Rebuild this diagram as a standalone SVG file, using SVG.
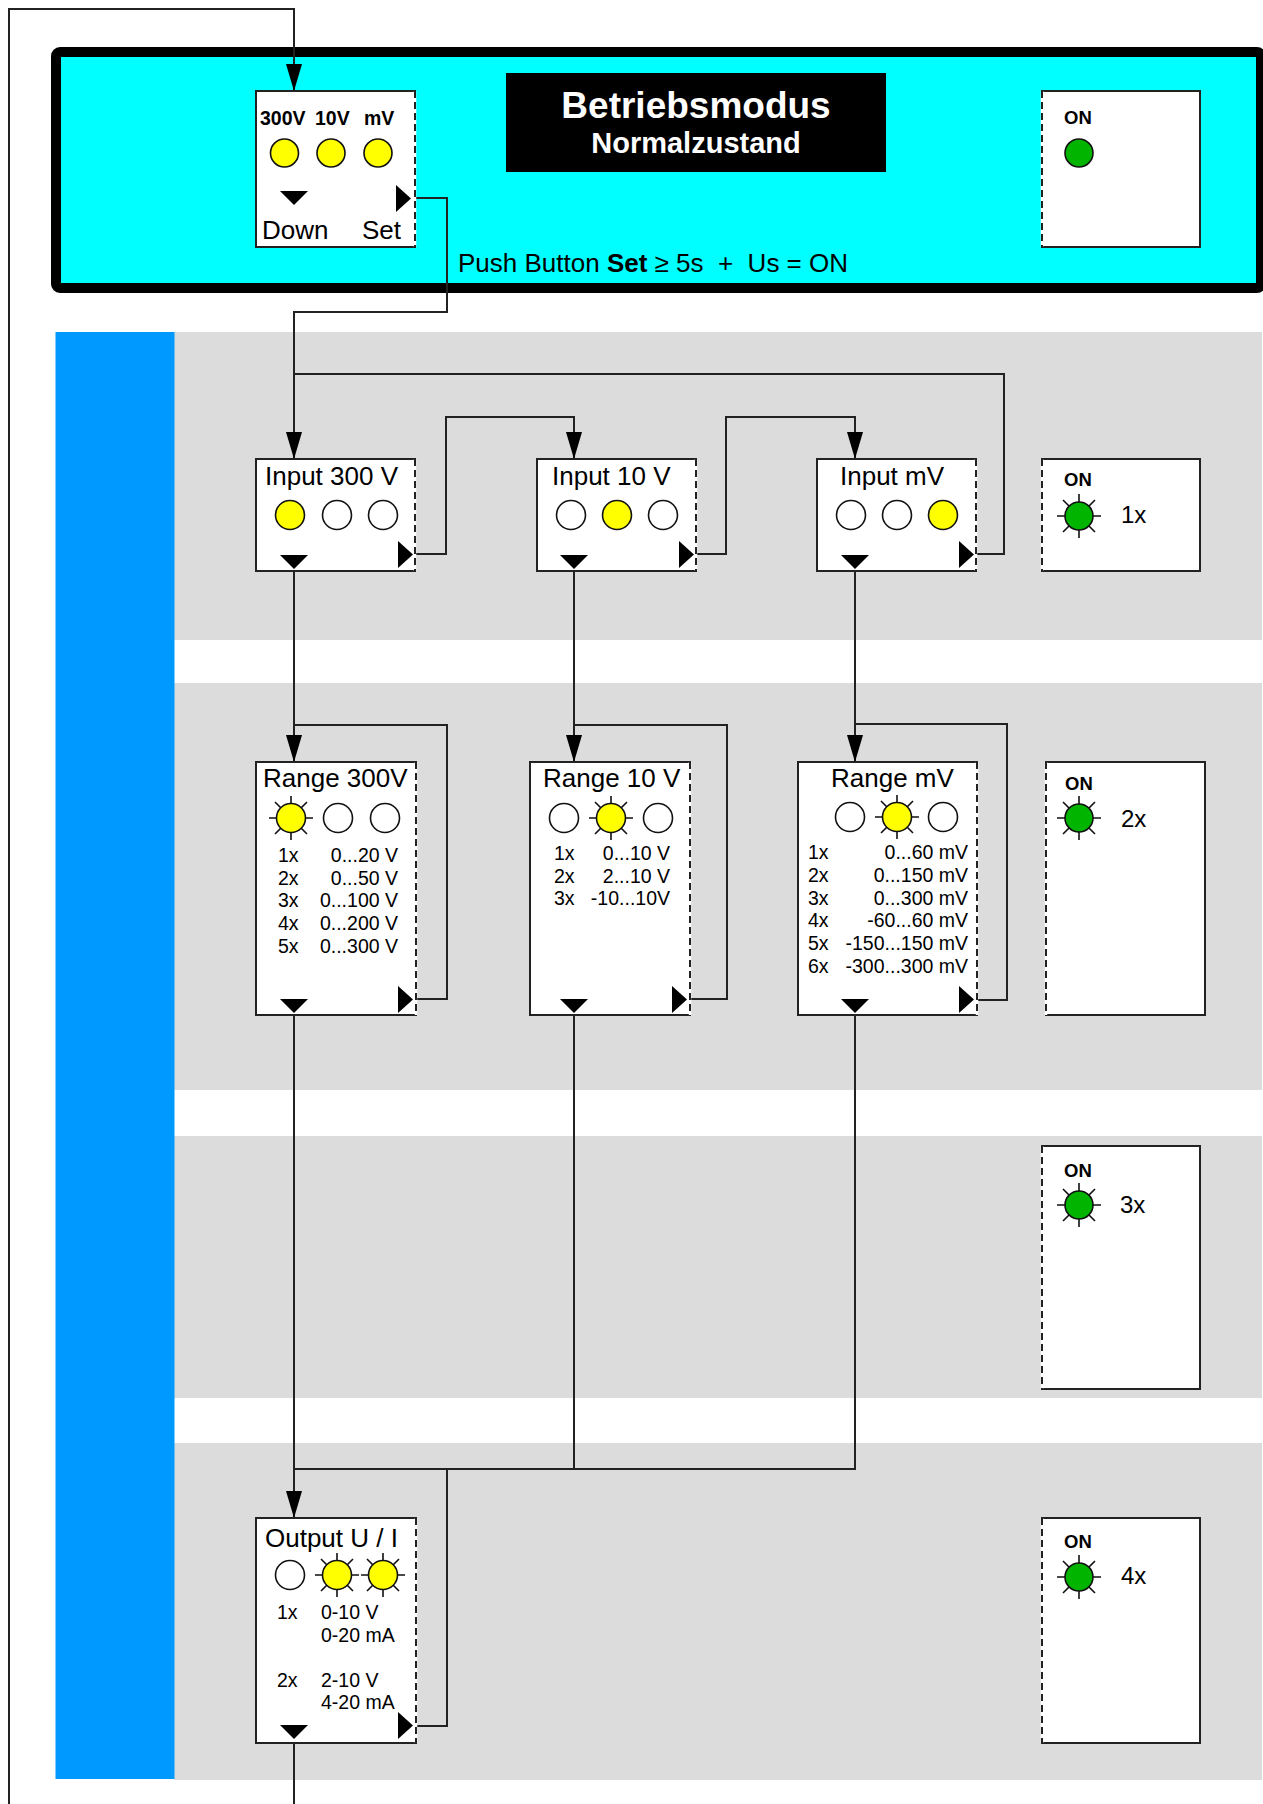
<svg xmlns="http://www.w3.org/2000/svg" xmlns:xlink="http://www.w3.org/1999/xlink" width="1263" height="1804" viewBox="0 0 1263 1804">
<defs>
<style>
text{font-family:"Liberation Sans",Arial,sans-serif;fill:#000}
.band{fill:#dcdcdc}
.box{fill:#fff;stroke:#222;stroke-width:2}
.dash{fill:none;stroke:#222;stroke-width:2;stroke-dasharray:7 4}
.edge{fill:none;stroke:#fff;stroke-width:2.5}
.conn{fill:none;stroke:#222;stroke-width:2}
.arr{fill:none;stroke:#222;stroke-width:2;marker-end:url(#ah)}
.led{stroke:#111;stroke-width:1.6}
.y{fill:#ffff00}
.w{fill:#fff}
.g{fill:#00b400}
.ray{fill:none;stroke:#111;stroke-width:1.6}
.tri{fill:#000}
.title{font-size:26px}
.item{font-size:19.5px}
.on{font-size:18.5px;font-weight:bold}
.nx{font-size:24px}
.end{text-anchor:end}
</style>
<marker id="ah" markerUnits="userSpaceOnUse" markerWidth="27" markerHeight="16" refX="27" refY="8" orient="auto">
<path d="M0,0 L27,8 L0,16 z" fill="#000"/>
</marker>
<path id="rays" class="ray" d="M0,-10V-22 M0,10V22 M-10,0H-22 M10,0H22 M7,-7L16,-16 M-7,-7L-16,-16 M7,7L16,16 M-7,7L-16,16"/>
<path id="tdown" class="tri" d="M-14,0 H14 L0,14 z"/>
<path id="tright" class="tri" d="M0,0 V27 L15,13.5 z"/>
</defs>

<rect width="1263" height="1804" fill="#fff"/>

<g id="background">
<rect class="band" x="174" y="332" width="1088" height="308"/>
<rect class="band" x="174" y="683" width="1088" height="407"/>
<rect class="band" x="174" y="1136" width="1088" height="262"/>
<rect class="band" x="174" y="1443" width="1088" height="337"/>
<rect x="55.5" y="332" width="119" height="1447" fill="#0099ff"/>
</g>

<g id="header">
<rect x="56" y="52" width="1205" height="236" rx="4" fill="#00ffff" stroke="#000" stroke-width="10"/>
<rect x="506" y="73" width="380" height="99" fill="#000"/>
<text x="696" y="118" text-anchor="middle" font-size="37" font-weight="bold" style="fill:#fff">Betriebsmodus</text>
<text x="696" y="153" text-anchor="middle" font-size="29" font-weight="bold" style="fill:#fff">Normalzustand</text>
<text x="458" y="272" font-size="26" style="white-space:pre">Push Button <tspan font-weight="bold">Set</tspan> ≥ 5s  +  Us = ON</text>
</g>

<g id="connectors">
<path class="arr" d="M9,1804 V9 H294 V91"/>
<path class="arr" d="M411,198 H447 V312 H294 V459"/>
<path class="conn" d="M976,554 H1004 V374 H294"/>
<path class="arr" d="M415,554 H446 V417 H574 V459"/>
<path class="arr" d="M696,554 H726 V417 H855 V459"/>
<path class="arr" d="M294,571 V762"/>
<path class="arr" d="M574,571 V762"/>
<path class="arr" d="M855,571 V762"/>
<path class="conn" d="M415,999 H447 V725 H294"/>
<path class="conn" d="M689,999 H727 V725 H574"/>
<path class="conn" d="M976,1000 H1007 V724 H855"/>
<path class="arr" d="M294,1015 V1518"/>
<path class="conn" d="M574,1015 V1469 M855,1015 V1469 H294"/>
<path class="conn" d="M415,1726 H447 V1469"/>
<path class="conn" d="M294,1743 V1804"/>
</g>

<g id="node-display">
<rect class="box" x="256" y="91" width="159" height="156"/>
<line class="edge" x1="415" y1="91" x2="415" y2="247"/>
<line class="dash" x1="415" y1="91" x2="415" y2="247"/>
<text x="260" y="125" font-size="19.5" font-weight="bold">300V</text>
<text x="315" y="125" font-size="19.5" font-weight="bold">10V</text>
<text x="364" y="125" font-size="19.5" font-weight="bold">mV</text>
<circle class="led y" cx="284.5" cy="153" r="14"/>
<circle class="led y" cx="331" cy="153" r="14"/>
<circle class="led y" cx="378" cy="153" r="14"/>
<use xlink:href="#tdown" x="294" y="191"/>
<use xlink:href="#tright" x="396" y="185"/>
<text x="262" y="239" font-size="26">Down</text>
<text x="362" y="239" font-size="26">Set</text>
</g>

<g id="node-on-header">
<rect class="box" x="1042" y="91" width="158" height="156"/>
<line class="edge" x1="1042" y1="91" x2="1042" y2="247"/>
<line class="dash" x1="1042" y1="91" x2="1042" y2="247"/>
<text class="on" x="1064" y="124">ON</text>
<circle class="led g" cx="1079" cy="153" r="14"/>
</g>

<g id="node-input300">
<rect class="box" x="256" y="459" width="159" height="112"/>
<line class="edge" x1="415" y1="459" x2="415" y2="571"/>
<line class="dash" x1="415" y1="459" x2="415" y2="571"/>
<text class="title" x="265" y="485">Input 300 V</text>
<circle class="led y" cx="290" cy="515" r="14.5"/>
<circle class="led w" cx="337" cy="515" r="14.5"/>
<circle class="led w" cx="383" cy="515" r="14.5"/>
<use xlink:href="#tdown" x="294" y="555"/>
<use xlink:href="#tright" x="398" y="541"/>
</g>

<g id="node-input10">
<rect class="box" x="537" y="459" width="159" height="112"/>
<line class="edge" x1="696" y1="459" x2="696" y2="571"/>
<line class="dash" x1="696" y1="459" x2="696" y2="571"/>
<text class="title" x="552" y="485">Input 10 V</text>
<circle class="led w" cx="571" cy="515" r="14.5"/>
<circle class="led y" cx="617" cy="515" r="14.5"/>
<circle class="led w" cx="663" cy="515" r="14.5"/>
<use xlink:href="#tdown" x="574" y="555"/>
<use xlink:href="#tright" x="679" y="541"/>
</g>

<g id="node-inputmv">
<rect class="box" x="817" y="459" width="159" height="112"/>
<line class="edge" x1="976" y1="459" x2="976" y2="571"/>
<line class="dash" x1="976" y1="459" x2="976" y2="571"/>
<text class="title" x="840" y="485">Input mV</text>
<circle class="led w" cx="851" cy="515" r="14.5"/>
<circle class="led w" cx="897" cy="515" r="14.5"/>
<circle class="led y" cx="943" cy="515" r="14.5"/>
<use xlink:href="#tdown" x="855" y="555"/>
<use xlink:href="#tright" x="959" y="541"/>
</g>

<g id="node-on1">
<rect class="box" x="1042" y="459" width="158" height="112"/>
<line class="edge" x1="1042" y1="459" x2="1042" y2="571"/>
<line class="dash" x1="1042" y1="459" x2="1042" y2="571"/>
<text class="on" x="1064" y="486">ON</text>
<use xlink:href="#rays" x="1079" y="516"/>
<circle class="led g" cx="1079" cy="516" r="14"/>
<text class="nx" x="1121" y="523">1x</text>
</g>

<g id="node-range300">
<rect class="box" x="256" y="762" width="160" height="253"/>
<line class="edge" x1="416" y1="762" x2="416" y2="1015"/>
<line class="dash" x1="416" y1="762" x2="416" y2="1015"/>
<text class="title" x="263" y="787">Range 300V</text>
<use xlink:href="#rays" x="291" y="818"/>
<circle class="led y" cx="291" cy="818" r="14.5"/>
<circle class="led w" cx="338" cy="818" r="14.5"/>
<circle class="led w" cx="385" cy="818" r="14.5"/>
<text class="item" x="278" y="862">1x</text><text class="item end" x="398" y="862">0...20 V</text>
<text class="item" x="278" y="884.5">2x</text><text class="item end" x="398" y="884.5">0...50 V</text>
<text class="item" x="278" y="907">3x</text><text class="item end" x="398" y="907">0...100 V</text>
<text class="item" x="278" y="930">4x</text><text class="item end" x="398" y="930">0...200 V</text>
<text class="item" x="278" y="952.5">5x</text><text class="item end" x="398" y="952.5">0...300 V</text>
<use xlink:href="#tdown" x="294" y="999"/>
<use xlink:href="#tright" x="398" y="986"/>
</g>

<g id="node-range10">
<rect class="box" x="530" y="762" width="160" height="253"/>
<line class="edge" x1="690" y1="762" x2="690" y2="1015"/>
<line class="dash" x1="690" y1="762" x2="690" y2="1015"/>
<text class="title" x="543" y="787">Range 10 V</text>
<circle class="led w" cx="564" cy="818" r="14.5"/>
<use xlink:href="#rays" x="611" y="818"/>
<circle class="led y" cx="611" cy="818" r="14.5"/>
<circle class="led w" cx="658" cy="818" r="14.5"/>
<text class="item" x="554" y="860">1x</text><text class="item end" x="670" y="860">0...10 V</text>
<text class="item" x="554" y="883">2x</text><text class="item end" x="670" y="883">2...10 V</text>
<text class="item" x="554" y="905">3x</text><text class="item end" x="670" y="905">-10...10V</text>
<use xlink:href="#tdown" x="574" y="999"/>
<use xlink:href="#tright" x="672" y="986"/>
</g>

<g id="node-rangemv">
<rect class="box" x="798" y="762" width="179" height="253"/>
<line class="edge" x1="977" y1="762" x2="977" y2="1015"/>
<line class="dash" x1="977" y1="762" x2="977" y2="1015"/>
<text class="title" x="831" y="787">Range mV</text>
<circle class="led w" cx="850" cy="817" r="14.5"/>
<use xlink:href="#rays" x="897" y="817"/>
<circle class="led y" cx="897" cy="817" r="14.5"/>
<circle class="led w" cx="943" cy="817" r="14.5"/>
<text class="item" x="808" y="859">1x</text><text class="item end" x="968" y="859">0...60 mV</text>
<text class="item" x="808" y="882">2x</text><text class="item end" x="968" y="882">0...150 mV</text>
<text class="item" x="808" y="904.5">3x</text><text class="item end" x="968" y="904.5">0...300 mV</text>
<text class="item" x="808" y="927">4x</text><text class="item end" x="968" y="927">-60...60 mV</text>
<text class="item" x="808" y="950">5x</text><text class="item end" x="968" y="950">-150...150 mV</text>
<text class="item" x="808" y="972.5">6x</text><text class="item end" x="968" y="972.5">-300...300 mV</text>
<use xlink:href="#tdown" x="855" y="999"/>
<use xlink:href="#tright" x="959" y="986"/>
</g>

<g id="node-on2">
<rect class="box" x="1046" y="762" width="159" height="253"/>
<line class="edge" x1="1046" y1="762" x2="1046" y2="1015"/>
<line class="dash" x1="1046" y1="762" x2="1046" y2="1015"/>
<text class="on" x="1065" y="790">ON</text>
<use xlink:href="#rays" x="1079" y="818"/>
<circle class="led g" cx="1079" cy="818" r="14"/>
<text class="nx" x="1121" y="827">2x</text>
</g>

<g id="node-on3">
<rect class="box" x="1042" y="1146" width="158" height="243"/>
<line class="edge" x1="1042" y1="1146" x2="1042" y2="1389"/>
<line class="dash" x1="1042" y1="1146" x2="1042" y2="1389"/>
<text class="on" x="1064" y="1177">ON</text>
<use xlink:href="#rays" x="1079" y="1205"/>
<circle class="led g" cx="1079" cy="1205" r="14"/>
<text class="nx" x="1120" y="1213">3x</text>
</g>

<g id="node-output">
<rect class="box" x="256" y="1518" width="160" height="225"/>
<line class="edge" x1="416" y1="1518" x2="416" y2="1743"/>
<line class="dash" x1="416" y1="1518" x2="416" y2="1743"/>
<text class="title" x="265" y="1547">Output U / I</text>
<circle class="led w" cx="290" cy="1575" r="14.5"/>
<use xlink:href="#rays" x="337" y="1575"/>
<circle class="led y" cx="337" cy="1575" r="14.5"/>
<use xlink:href="#rays" x="383" y="1575"/>
<circle class="led y" cx="383" cy="1575" r="14.5"/>
<text class="item" x="277" y="1619">1x</text><text class="item" x="321" y="1619">0-10 V</text>
<text class="item" x="321" y="1642">0-20 mA</text>
<text class="item" x="277" y="1687">2x</text><text class="item" x="321" y="1687">2-10 V</text>
<text class="item" x="321" y="1709">4-20 mA</text>
<use xlink:href="#tdown" x="294" y="1725"/>
<use xlink:href="#tright" x="398" y="1712"/>
</g>

<g id="node-on4">
<rect class="box" x="1042" y="1518" width="158" height="225"/>
<line class="edge" x1="1042" y1="1518" x2="1042" y2="1743"/>
<line class="dash" x1="1042" y1="1518" x2="1042" y2="1743"/>
<text class="on" x="1064" y="1548">ON</text>
<use xlink:href="#rays" x="1079" y="1577"/>
<circle class="led g" cx="1079" cy="1577" r="14"/>
<text class="nx" x="1121" y="1584">4x</text>
</g>
</svg>
